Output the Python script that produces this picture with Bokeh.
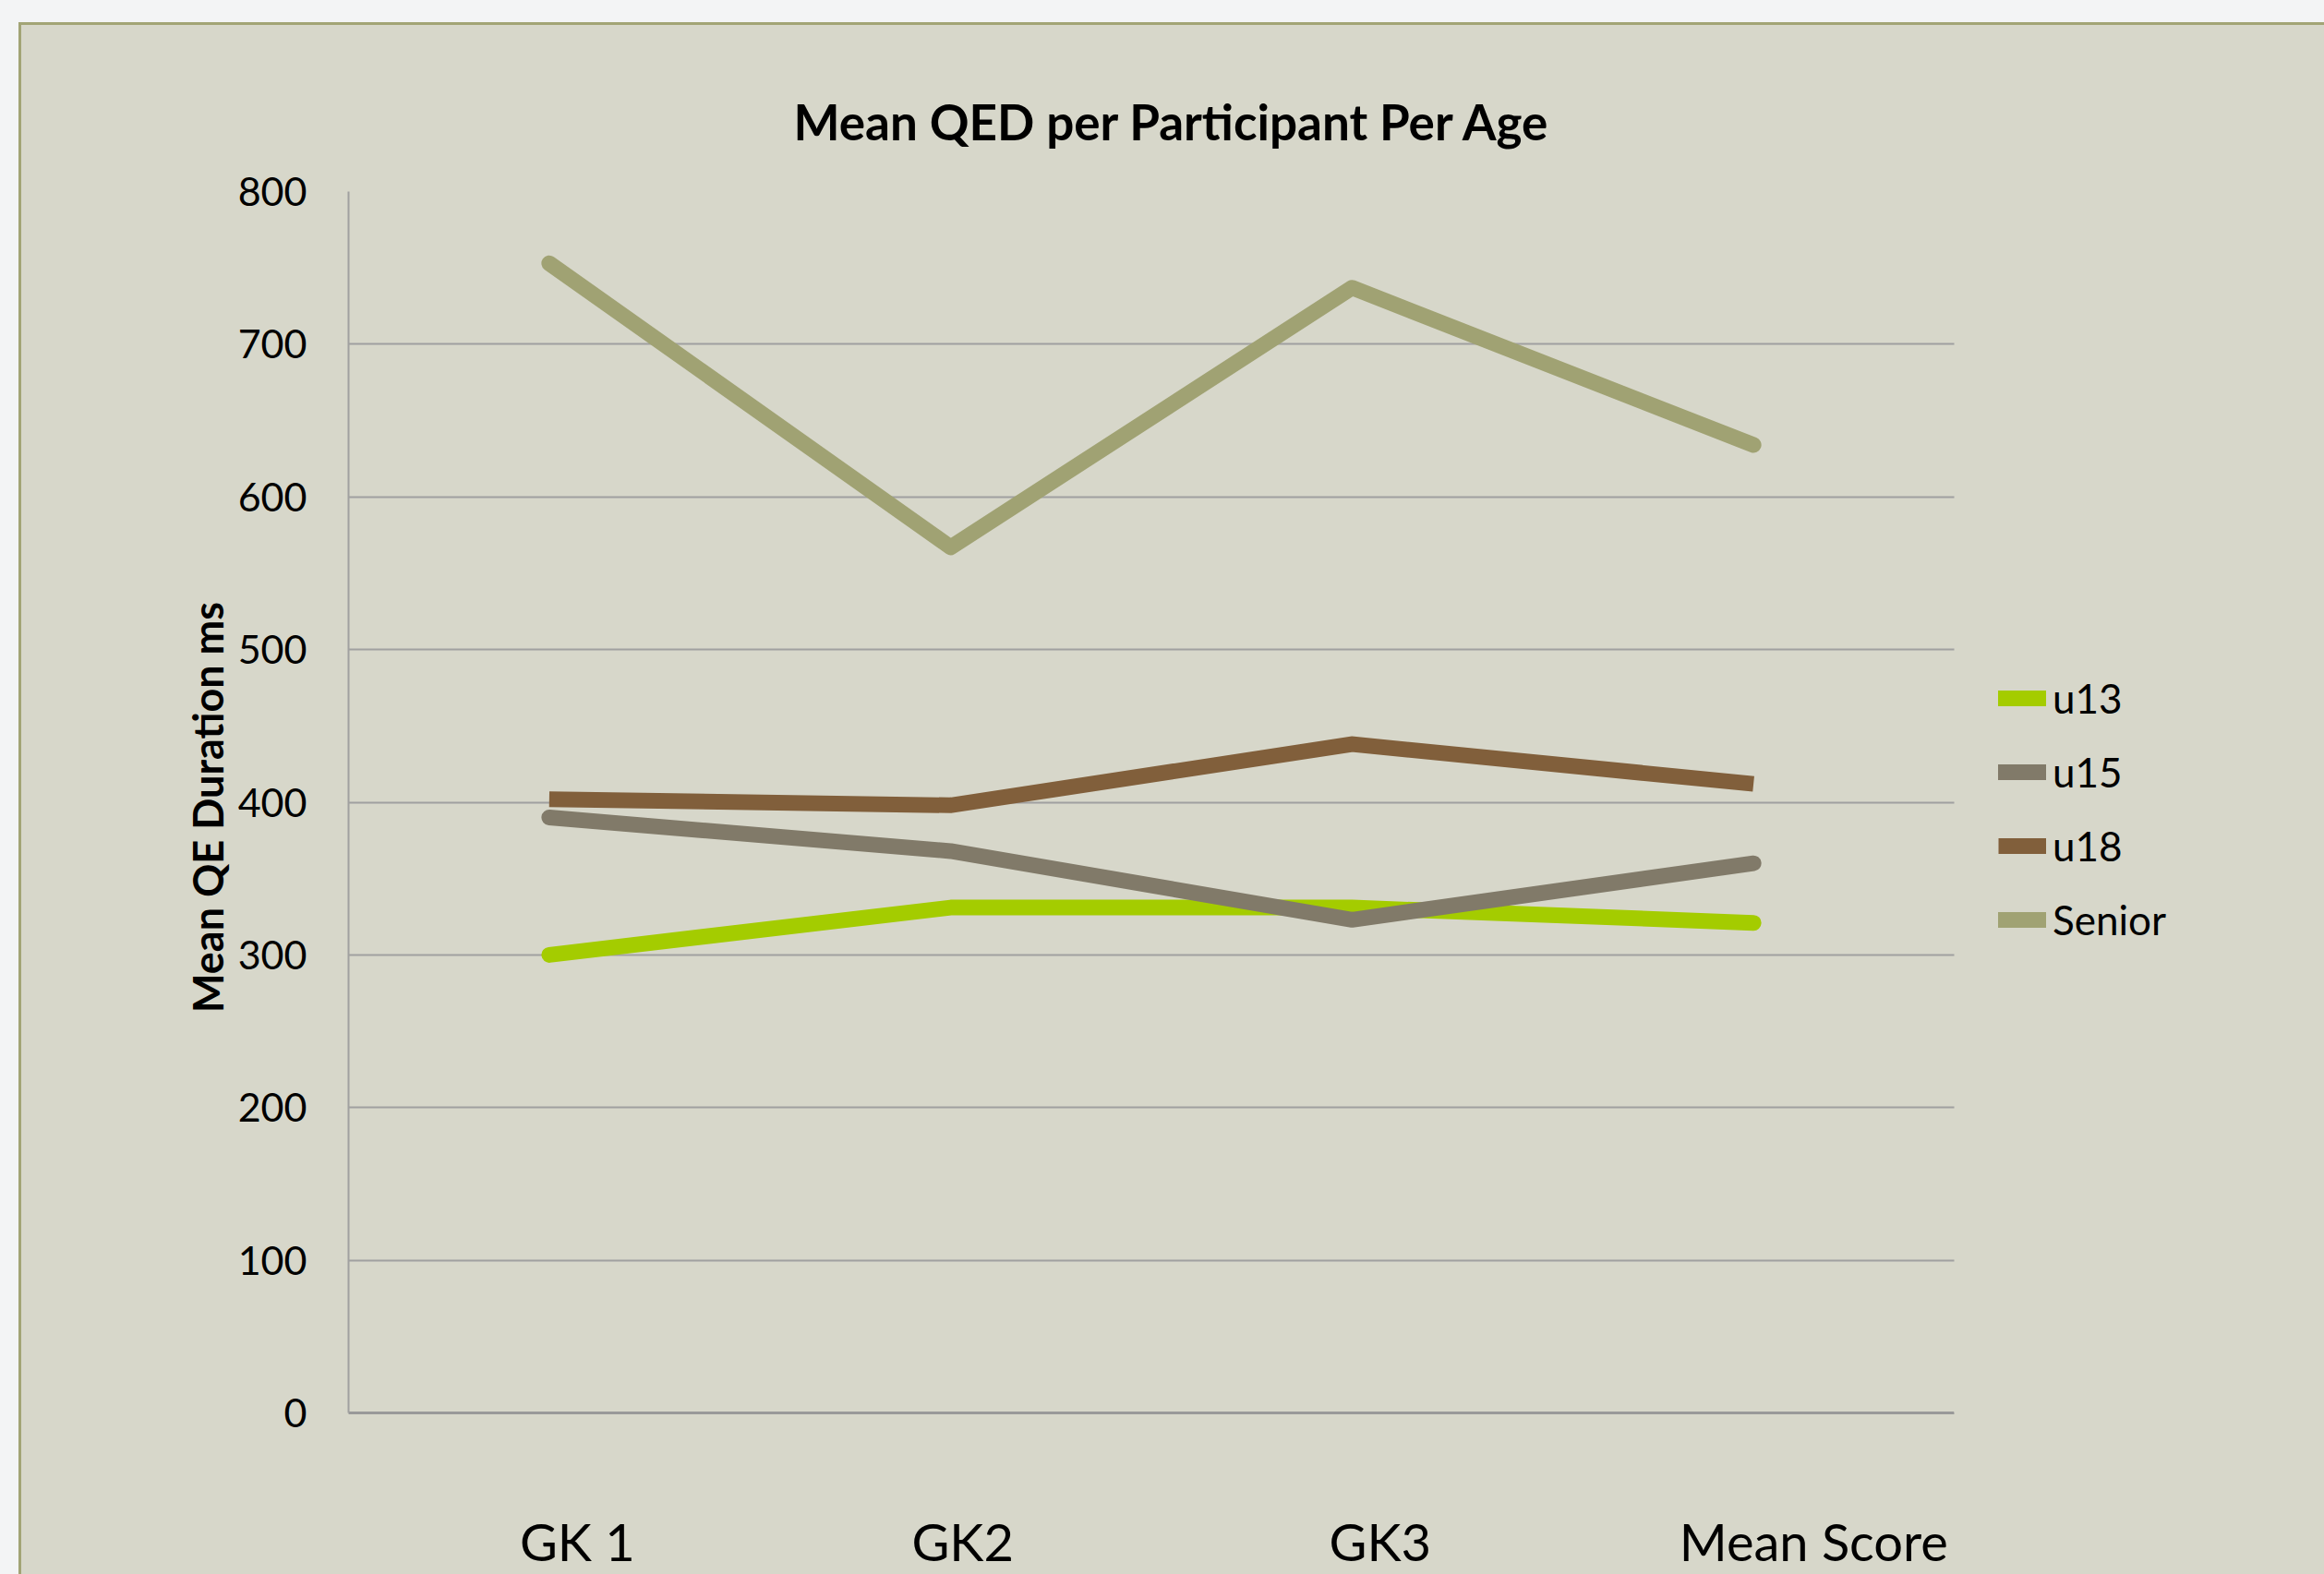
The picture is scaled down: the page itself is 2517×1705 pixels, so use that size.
from bokeh.plotting import figure
from bokeh.models import (ColumnDataSource, Range1d, Legend, LegendItem, BoxAnnotation,
                          SingleIntervalTicker, FixedTicker)
from bokeh.embed import file_html
from bokeh.resources import INLINE

# ---- data ----
categories = ["GK 1", "GK2", "GK3", "Mean Score"]
u13 = [300, 331, 331, 321]
u15 = [390, 368, 323, 360]
u18 = [402, 398, 438, 412]
senior = [753, 567, 737, 634]
series_names = ["u13", "u15", "u18", "Senior"]
title_text = "Mean QED per Participant Per Age"
y_label = "Mean QE Duration  ms"

# horizontal nudge of each category label (style, in category units)
label_nudge = [0.07, 0.03, 0.07, 0.15]

n = len(categories)
x_pos = [i + 0.5 for i in range(n)]          # centre of each category slot
src = ColumnDataSource(dict(x=x_pos, u13=u13, u15=u15, u18=u18, senior=senior))

BG = "#d7d7ca"
GRID = "#a0a0a0"
FONT = "Lato"

# layout (pixels)
W, H = 2517, 1705
LEFT, TOP, BOTTOM = 377, 207, 172
PLOT_W = 1739                     # width of the category area
FRAME_W = W - LEFT                # frame runs to the right edge (legend lives there)
x_end = n * FRAME_W / PLOT_W

p = figure(x_range=Range1d(0, x_end), y_range=Range1d(0, 800),
           width=W, height=H, output_backend="svg", toolbar_location=None,
           min_border_left=LEFT, min_border_right=0, min_border_top=TOP,
           min_border_bottom=BOTTOM)
p.styles = {"background-color": BG,
            "box-shadow": "inset 20px 24px 0 0 #f3f4f5, inset 23px 27px 0 0 #a2a475"}

p.background_fill_color = BG
p.border_fill_alpha = 0
p.outline_line_color = None

# title
p.title.text = title_text
p.title.align = "left"
p.title.offset = 482
p.title.text_font = FONT
p.title.text_font_style = "bold"
p.title.text_font_size = "53px"
p.title.text_color = "black"
p.title.standoff = 89

# grid
p.xgrid.visible = False
p.ygrid.grid_line_color = GRID
p.ygrid.grid_line_width = 2
p.yaxis.ticker = SingleIntervalTicker(interval=100, num_minor_ticks=0)

# y axis
p.yaxis.axis_line_color = GRID
p.yaxis.axis_line_width = 2
p.yaxis.major_tick_line_color = None
p.yaxis.minor_tick_line_color = None
p.yaxis.major_tick_out = 0
p.yaxis.minor_tick_out = 0
p.yaxis.major_label_standoff = 45
p.yaxis.major_label_text_font = FONT
p.yaxis.major_label_text_font_size = "43px"
p.yaxis.major_label_text_color = "black"
p.yaxis.axis_label = y_label
p.yaxis.axis_label_text_font = FONT
p.yaxis.axis_label_text_font_style = "bold"
p.yaxis.axis_label_text_font_size = "45px"
p.yaxis.axis_label_text_color = "black"
p.yaxis.axis_label_standoff = 3

# x axis: category labels
ticks = [round(x + d, 3) for x, d in zip(x_pos, label_nudge)]
p.xaxis.ticker = FixedTicker(ticks=ticks)
p.xaxis.major_label_overrides = {t: c for t, c in zip(ticks, categories)}
p.xaxis.bounds = (0, n)
p.xaxis.axis_line_color = "#999999"
p.xaxis.axis_line_width = 3
p.xaxis.major_tick_line_color = None
p.xaxis.minor_tick_line_color = None
p.xaxis.major_tick_out = 0
p.xaxis.minor_tick_out = 0
p.xaxis.major_label_standoff = 105
p.xaxis.major_label_text_font = FONT
p.xaxis.major_label_text_font_size = "56px"
p.xaxis.major_label_text_color = "black"

# lines
LW = 17
r13 = p.line("x", "u13", source=src, line_color="#a4cc00", line_width=LW,
             line_cap="round", line_join="round")
r15 = p.line("x", "u15", source=src, line_color="#817a69", line_width=LW,
             line_cap="round", line_join="round")
r18 = p.line("x", "u18", source=src, line_color="#815f3b", line_width=LW,
             line_cap="butt", line_join="miter")
rsn = p.line("x", "senior", source=src, line_color="#a0a273", line_width=LW,
             line_cap="round", line_join="round")

# area right of the categories holds only the legend (no grid there)
p.add_layout(BoxAnnotation(left=n, fill_color=BG, fill_alpha=1, line_color=None))

legend = Legend(items=[LegendItem(label=s, renderers=[r]) for s, r in
                       zip(series_names, [r13, r15, r18, rsn])],
                location=(1787, 504))
legend.border_line_color = None
legend.background_fill_alpha = 0
legend.padding = 0
legend.margin = 0
legend.spacing = 20
legend.glyph_width = 52
legend.glyph_height = 60
legend.label_height = 60
legend.label_standoff = 7
legend.label_text_font = FONT
legend.label_text_font_size = "44px"
legend.label_text_color = "black"
p.add_layout(legend)

open("out.html", "w").write(file_html(p, INLINE))
